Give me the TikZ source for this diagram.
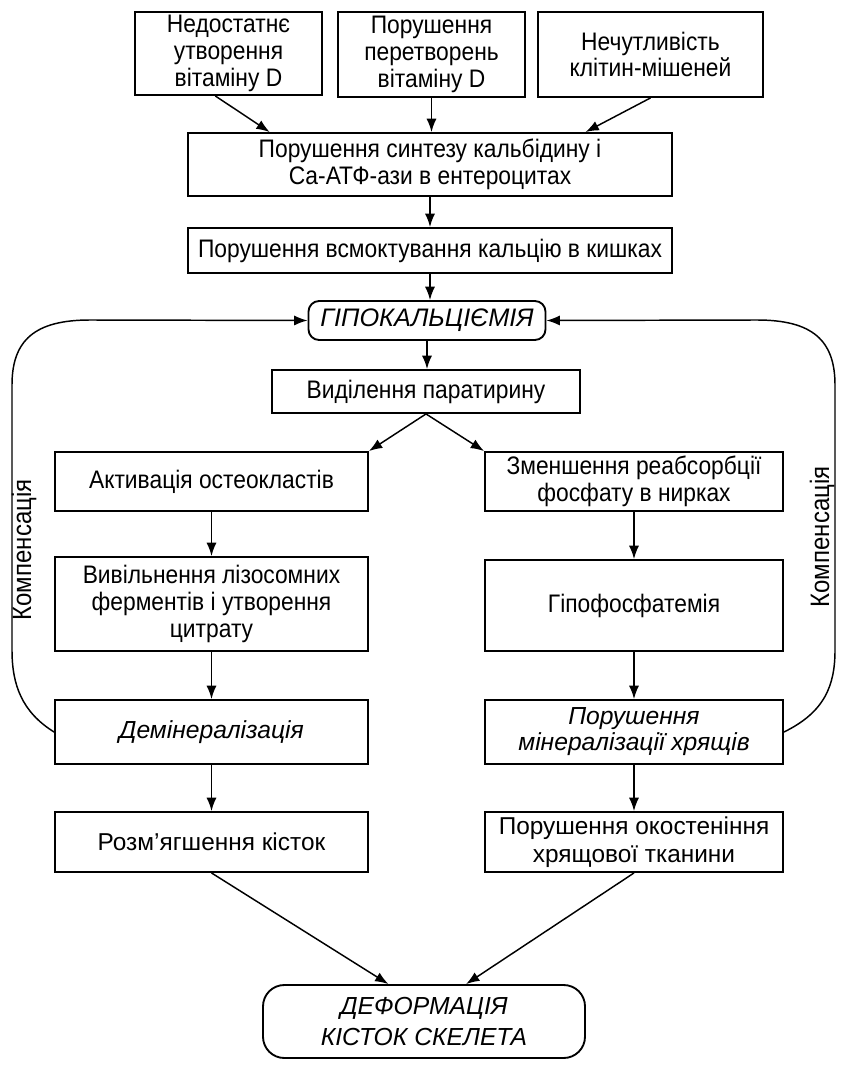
\documentclass[tikz,border=0pt]{standalone}
\usepackage{fontspec}
\setmainfont{Liberation Sans}[FakeStretch=0.9]
\newfontfamily\widefont{Liberation Sans}
\usetikzlibrary{arrows.meta,calc}
\begin{document}
\begin{tikzpicture}[x=0.75pt,y=-0.75pt,
  wh/.style 2 args={minimum width=#1*0.75pt, minimum height=#2*0.75pt},
  box/.style={draw, line width=1.4pt, align=center, inner sep=0pt, font=\fontsize{19}{20}\selectfont},
  ital/.style={font=\fontsize{18.5}{19.5}\selectfont\widefont\itshape},
  wbox/.style={box, font=\fontsize{18.3}{21}\selectfont\widefont},
  arr/.style={line width=1.1pt, -{Latex[length=10pt,width=7.5pt]}},
  comp/.style={font=\fontsize{20}{20}\selectfont, rotate=90}
]
\useasboundingbox (0,0) rectangle (846,1066);

\node[box, wh={187}{83}] (A) at (228.5,53.5) {Недостатнє\\утворення\\вітаміну D};
\node[box, wh={187}{85}] (B) at (431.5,54.5) {Порушення\\перетворень\\вітаміну D};
\node[box, wh={225}{85}] (C) at (650.5,54.5) {Нечутливість\\клітин-мішеней};
\node[box, wh={484}{63}] (D) at (430,164.5) {Порушення синтезу кальбідину і\\Са-АТФ-ази в ентероцитах};
\node[box, wh={484}{45}] (E) at (430,250.5) {Порушення всмоктування кальцію в кишках};
\node[box, ital, font=\fontsize{19}{20}\selectfont\widefont\itshape, rounded corners=8pt, wh={237}{39}] (H) at (427,320.5) {ГІПОКАЛЬЦІЄМІЯ};
\node[box, wh={308}{43}] (V) at (426,391.5) {Виділення паратирину};
\node[box, wh={313}{59}] (L1) at (211.5,481.5) {Активація остеокластів};
\node[box, wh={298}{59}] (R1) at (634,481.5) {Зменшення реабсорбції\\фосфату в нирках};
\node[box, wh={313}{94}] (L2) at (211.5,604) {Вивільнення лізосомних\\ферментів і утворення\\цитрату};
\node[box, wh={298}{91}] (R2) at (634,605.5) {Гіпофосфатемія};
\node[box, ital, wh={313}{64}] (L3) at (211.5,732) {Демінералізація};
\node[box, ital, wh={298}{64}] (R3) at (634,732) {Порушення\\мінералізації хрящів};
\node[wbox, wh={313}{60}] (L4) at (211.5,842) {Розм’ягшення кісток};
\node[wbox, wh={298}{60}] (R4) at (634,842) {Порушення окостеніння\\хрящової тканини};
\node[box, rounded corners=16pt, wh={322}{73}, font=\fontsize{18.5}{23}\selectfont\widefont\itshape] (F) at (424,1021.5) {ДЕФОРМАЦІЯ\\КІСТОК СКЕЛЕТА};

\draw[arr] ($(A.south west)!0.43!(A.south east)$) -- ($(D.north west)!0.17!(D.north east)$);
\draw[arr] (B.south) -- (B.south |- D.north);
\draw[arr] (C.south) -- ($(D.north west)!0.82!(D.north east)$);
\draw[arr] (D.south) -- (E.north);
\draw[arr] (E.south) -- (E.south |- H.north);
\draw[arr] (H.south) -- (H.south |- V.north);
\draw[arr] (V.south) -- (L1.north east);
\draw[arr] (V.south) -- (R1.north west);
\draw[arr] (L1.south) -- (L2.north);
\draw[arr] (L2.south) -- (L3.north);
\draw[arr] (L3.south) -- (L4.north);
\draw[arr] (R1.south) -- (R2.north);
\draw[arr] (R2.south) -- (R3.north);
\draw[arr] (R3.south) -- (R4.north);
\draw[arr] (L4.south) -- ($(F.north west)!0.39!(F.north east)$);
\draw[arr] (R4.south) -- ($(F.north west)!0.63!(F.north east)$);

\coordinate (lb) at (12,650);
\coordinate (lt) at (12,385);
\coordinate (rb) at (835,650);
\coordinate (rt) at (835,385);
\draw[arr] (L3.west) .. controls (22,712) and (12,685) .. (lb) -- (lt) .. controls (12,340) and (35,320) .. (90,320) -- (H.west);
\draw[arr] (R3.east) .. controls (825,712) and (835,685) .. (rb) -- (rt) .. controls (835,340) and (812,320) .. (757,320) -- (H.east);
\node[comp] (cl) at (24,550) {Компенсація};
\node[comp] (cr) at (822,537) {Компенсація};
\end{tikzpicture}
\end{document}
